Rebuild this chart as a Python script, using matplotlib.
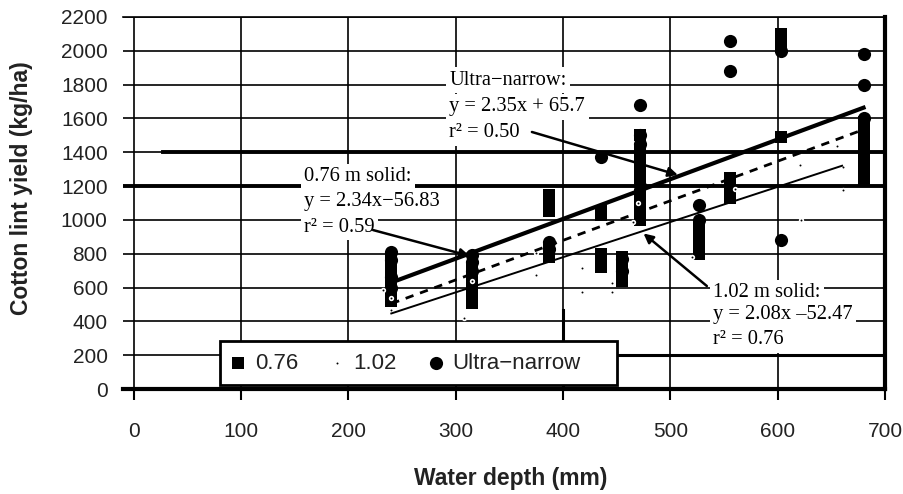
import matplotlib.pyplot as plt
from matplotlib.patches import Rectangle

plt.rcParams['font.family'] = ['Liberation Sans', 'DejaVu Sans']

# 0.76 m solid rows (squares)
depth_076 = [240, 240, 240, 240, 240,
             315, 315, 315, 315, 315,
             387, 387, 387, 387, 387,
             435, 435, 435, 435, 435,
             455, 455, 455, 455,
             472, 472, 472, 472, 472, 472, 472, 472, 472,
             527, 527, 527, 527,
             556, 556, 556, 556,
             603, 603, 603, 603,
             680, 680, 680, 680, 680, 680, 680, 680]
yield_076 = [760, 700, 640, 580, 520,
             720, 660, 600, 550, 510,
             1150, 1100, 1050, 820, 780,
             1050, 1030, 800, 760, 720,
             780, 730, 680, 640,
             1500, 1400, 1350, 1300, 1250, 1150, 1100, 1050, 1000,
             960, 900, 850, 800,
             1250, 1200, 1150, 1130,
             2100, 2060, 2020, 1490,
             1580, 1530, 1480, 1420, 1380, 1330, 1280, 1240]

# 1.02 m solid rows (small dots)
depth_102 = [232, 240, 240, 308, 315, 375, 375, 418, 418, 446, 446,
             465, 470, 520, 560, 621, 622, 655, 661, 661]
yield_102 = [585, 540, 470, 420, 640, 804, 674, 716, 574, 627, 574,
             990, 1100, 780, 1180, 1325, 1000, 1440, 1177, 1313]

# ultra-narrow rows (circles)
depth_un = [240, 240, 240, 240, 315, 315, 315, 387, 387, 435, 455, 455,
            472, 472, 472, 472, 527, 527, 556, 556, 603, 603, 680, 680, 680]
yield_un = [810, 760, 660, 600, 790, 750, 700, 870, 830, 1370, 770, 700,
            1680, 1500, 1450, 1200, 1090, 1000, 2060, 1880, 2000, 880,
            1980, 1800, 1600]

# regression fits (slope, intercept, x range)
fit_un = (2.35, 65.7, [240, 680])
fit_076 = (2.34, -56.83, [240, 680])
fit_102 = (2.08, -52.47, [240, 660])

x_ticks = list(range(0, 701, 100))
y_ticks = list(range(0, 2201, 200))

fig = plt.figure(figsize=(9.04, 4.94), dpi=100)
ax = fig.add_axes([123 / 904, 1 - 389 / 494, 762 / 904, 372 / 494])
ax.set_xlim(-10, 700)
ax.set_ylim(0, 2200)

# grid
for y in y_ticks:
    ax.axhline(y, color='black', lw=1.2, zorder=1)
for x in x_ticks:
    ax.axvline(x, color='black', lw=1.2, zorder=1)
# heavier lines seen in the scan
ax.plot([27, 700], [1400, 1400], color='black', lw=2.8, zorder=1)
ax.axhline(1200, color='black', lw=2.8, zorder=1)
ax.plot([450, 700], [200, 200], color='black', lw=2.2, zorder=1)
ax.plot([400, 400], [0, 470], color='black', lw=2.2, zorder=1)

# data
ax.scatter(depth_076, yield_076, marker='s', s=85, c='black', linewidths=0,
           zorder=3, label='0.76')
ax.scatter(depth_102, yield_102, marker='o', s=7, c='black', edgecolors='white',
           linewidths=1.2, zorder=4, label='1.02')
ax.scatter(depth_un, yield_un, marker='o', s=90, c='black', linewidths=0,
           zorder=3, label='Ultra\u2212narrow')

# fitted lines
for (m, b, xr), ls, lw in [(fit_un, '-', 3.0), (fit_076, (0, (3, 2.5)), 2.0),
                           (fit_102, '-', 1.4)]:
    ax.plot(xr, [m * v + b for v in xr], color='black', ls=ls, lw=lw, zorder=5)

# equation labels
serif = ['Liberation Serif', 'DejaVu Serif']
box = dict(facecolor='white', edgecolor='none', pad=2.5)
labels = [
    (294, [1827, 1668, 1514], ['Ultra\u2212narrow:', 'y = 2.35x + 65.7', 'r\u00b2 = 0.50']),
    (159, [1254, 1106, 958], ['0.76 m solid:', 'y = 2.34x\u221256.83', 'r\u00b2 = 0.59']),
    (540, [568, 438, 290], ['1.02 m solid:', 'y = 2.08x \u201352.47', 'r\u00b2 = 0.76']),
]
for x0, ys, lines in labels:
    for y0, s in zip(ys, lines):
        ax.text(x0, y0, s, family=serif, fontsize=14.8, va='center', ha='left',
                bbox=box, zorder=6)

arrows = [((371, 1520), (507, 1266)),
          ((223, 940), (313, 787)),
          ((534, 609), (475, 920))]
for start, end in arrows:
    ax.annotate('', xy=end, xytext=start, zorder=7,
                arrowprops=dict(arrowstyle='-|>', color='black', lw=1.8,
                                mutation_scale=14, shrinkA=0, shrinkB=0))

# axes look
ax.spines['left'].set_visible(False)
ax.spines['top'].set_linewidth(1.2)
ax.spines['bottom'].set_linewidth(3)
ax.spines['right'].set_linewidth(3)
ax.set_xticks(x_ticks)
ax.set_yticks(y_ticks)
ax.tick_params(axis='x', direction='out', length=8, width=1.5, pad=16,
               labelsize=15, labelcolor='#222222')
ax.tick_params(axis='y', length=0, pad=11, labelsize=15, labelcolor='#222222')

# legend box
ax.add_patch(Rectangle((97 / 762, 4 / 372), 397 / 762, 44 / 372,
                       transform=ax.transAxes, facecolor='white',
                       edgecolor='black', lw=2, zorder=8))
leg = ax.legend(loc='center left', bbox_to_anchor=(105 / 762, 26 / 372),
                ncol=3, fontsize=16, frameon=False, borderaxespad=0, borderpad=0,
                handletextpad=0.3, handlelength=0.9, columnspacing=1.3)
leg.set_zorder(9)
for t in leg.get_texts():
    t.set_color('#222222')

fig.text(22 / 904, 1 - 188 / 494, 'Cotton lint yield (kg/ha)', rotation=90,
         fontsize=16.5, fontweight='bold', ha='center', va='center', color='#222222')
fig.text(511 / 904, 1 - 478 / 494, 'Water depth (mm)', fontsize=16.5,
         fontweight='bold', ha='center', va='center', color='#222222')

fig.savefig('out.png', dpi=100)
